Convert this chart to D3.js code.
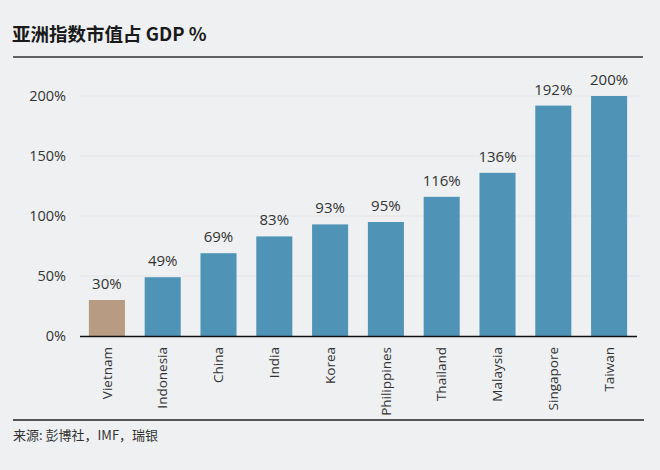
<!DOCTYPE html>
<html><head><meta charset="utf-8">
<script src="https://cdn.jsdelivr.net/npm/d3@7"></script>
<style>body{margin:0;background:#eef0f2;} svg{display:block;}</style>
</head><body>
<svg id="c" width="660" height="470"></svg>
<script>
const categories = ["Vietnam","Indonesia","China","India","Korea","Philippines","Thailand","Malaysia","Singapore","Taiwan"];
const values = [30,49,69,83,93,95,116,136,192,200];
const yTicks = [0,50,100,150,200];
const title = "亚洲指数市值占 GDP %";
const source = "来源: 彭博社，IMF，瑞银";

const svg = d3.select("#c");
const font = "'Open Sans','Noto Sans CJK SC',sans-serif";
svg.append("rect").attr("width",660).attr("height",470).attr("fill","#eef0f2");

svg.append("text").attr("x",12).attr("y",41).attr("font-family","'Noto Sans CJK SC','Open Sans',sans-serif")
  .attr("font-size",18.5).attr("font-weight",600).attr("fill","#1a1a1a").text(title);
svg.append("line").attr("x1",13).attr("x2",643).attr("y1",57).attr("y2",57).attr("stroke","#333").attr("stroke-width",1.5);

const x = d3.scaleBand().domain(categories).range([79,637]).paddingInner(0.354).paddingOuter(0.177);
const y = d3.scaleLinear().domain([0,200]).range([336,96]);

const g = svg.append("g");
g.selectAll(".grid").data(yTicks.filter(d=>d>0)).join("line")
  .attr("x1",80).attr("x2",640).attr("y1",d=>y(d)).attr("y2",d=>y(d))
  .attr("stroke","#e2e4e7").attr("stroke-width",1);

const yAxis = d3.axisLeft(y).tickValues(yTicks).tickFormat(d=>d+"%").tickSize(0).tickPadding(0);
const ya = svg.append("g").attr("transform","translate(66,0)").call(yAxis);
ya.select(".domain").remove();
ya.selectAll("text").attr("font-family",font).attr("font-size",14.5).attr("fill","#333");

g.selectAll(".bar").data(values).join("rect")
  .attr("x",(d,i)=>x(categories[i])).attr("width",x.bandwidth())
  .attr("y",d=>y(d)).attr("height",d=>y(0)-y(d))
  .attr("fill",(d,i)=>i===0?"#b89b83":"#4f94b7");

g.selectAll(".lbl").data(values).join("text")
  .attr("x",(d,i)=>x(categories[i])+x.bandwidth()/2).attr("y",d=>y(d)-11)
  .attr("text-anchor","middle").attr("font-family",font).attr("font-size",15).attr("fill","#333")
  .text(d=>d+"%");

const xAxis = d3.axisBottom(x).tickSize(0).tickPadding(0);
const xa = svg.append("g").attr("transform","translate(0,336)").call(xAxis);
xa.select(".domain").remove();
xa.selectAll("text").attr("font-family",font).attr("font-size",13.5).attr("fill","#333")
  .attr("transform","rotate(-90)").attr("text-anchor","end").attr("dy","0.35em").attr("x",-11).attr("y",0);

svg.append("line").attr("x1",80).attr("x2",637).attr("y1",336.5).attr("y2",336.5).attr("stroke","#111").attr("stroke-width",1.5);

svg.append("line").attr("x1",13).attr("x2",644).attr("y1",420).attr("y2",420).attr("stroke","#222").attr("stroke-width",1.5);
svg.append("text").attr("x",13).attr("y",440).attr("font-family","'Noto Sans CJK SC',sans-serif")
  .attr("font-size",13).attr("fill","#333").text(source);
</script>
</body></html>
